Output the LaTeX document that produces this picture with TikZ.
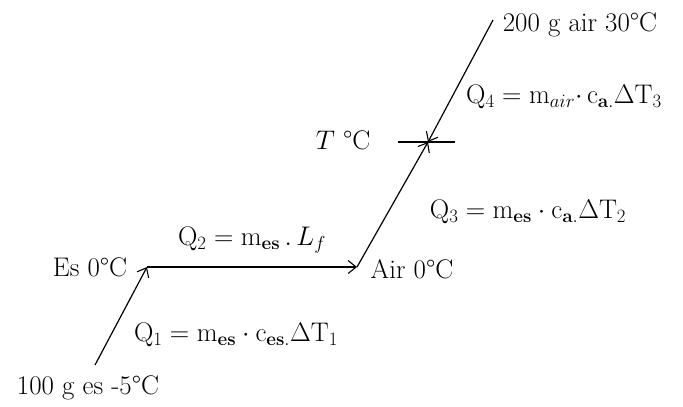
\RequirePackage{fix-cm}
\documentclass[tikz,border=0pt]{standalone}
\usetikzlibrary{arrows.meta}
\begin{document}
\begin{tikzpicture}[x=1bp,y=-1bp,
  lbl/.style={inner sep=0pt,font=\fontsize{27}{31}\selectfont},
  flow/.style={line width=1.2bp,-{Straight Barb[length=8bp,width=13bp,line width=1.1bp]}}]
\useasboundingbox (0,0) rectangle (683,406);
\coordinate (A) at (95,365);
\coordinate (B) at (147,267);
\coordinate (C) at (357,267);
\coordinate (D) at (428,142);
\coordinate (E) at (493,20);
\coordinate (tl) at (398,142);
\coordinate (tr) at (455,142);
\draw[flow] (A) -- (B);
\draw[flow] (B) -- (C);
\draw[flow] (C) -- (D);
\draw[flow] (E) -- (D);
\draw[line width=1.2bp] (tl) -- (tr);
\node[lbl] (n100) at (88,388) {100 g es -5\textdegree C};
\node[lbl] (nes) at (90,267) {Es 0\textdegree C};
\node[lbl] (q2) at (252,240) {$\mathrm{Q}_2 = \mathrm{m}_{\mathbf{es}}\,.\,L_f$};
\node[lbl] (q1) at (236,335) {$\mathrm{Q}_1 = \mathrm{m}_{\mathbf{es}}\cdot \mathrm{c}_{\mathbf{es.}}\Delta\mathrm{T}_1$};
\node[lbl] (air0) at (412,269) {Air 0\textdegree C};
\node[lbl] (q3) at (528,212) {$\mathrm{Q}_3 = \mathrm{m}_{\mathbf{es}}\cdot \mathrm{c}_{\mathbf{a.}}\Delta\mathrm{T}_2$};
\node[lbl] (tc) at (343,140) {$T$ \textdegree C};
\node[lbl] (q4) at (564,97) {$\mathrm{Q}_4 = \mathrm{m}_{air}{\cdot}\, \mathrm{c}_{\mathbf{a.}}\Delta\mathrm{T}_3$};
\node[lbl] (n200) at (580,25) {200 g air 30\textdegree C};
\end{tikzpicture}
\end{document}
